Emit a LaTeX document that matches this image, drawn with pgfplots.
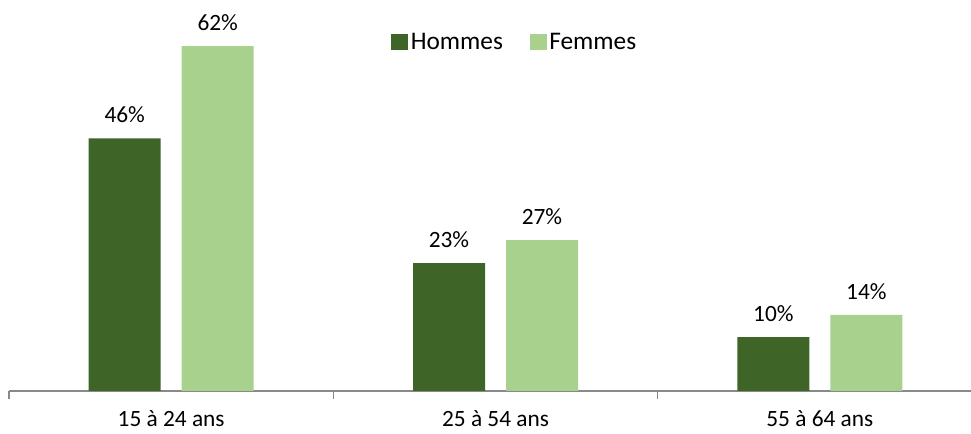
\documentclass[border=0pt]{standalone}
\usepackage{pgfplots}
\pgfplotsset{compat=1.18}
\usepackage{fontspec}
\setmainfont{Carlito}
\definecolor{dkg}{HTML}{3F6428}
\definecolor{ltg}{HTML}{A9D18E}
\definecolor{axg}{HTML}{898989}
\begin{document}
\begin{tikzpicture}
\begin{axis}[
  at={(0,0)}, anchor=south west,
  scale only axis,
  width=729.75pt, height=292.1pt,
  ymin=0, ymax=70,
  xmin=-0.5, xmax=2.5,
  ybar=15.75pt, bar width=54pt,
  axis y line=none,
  axis x line*=bottom,
  axis line style={axg, line width=0.9pt},
  xtick={0,1,2},
  xticklabels={15 à 24 ans, 25 à 54 ans, 55 à 64 ans},
  major x tick style={draw=none},
  minor xtick={-0.5,0.5,1.5,2.5},
  minor x tick style={axg, line width=0.9pt},
  minor tick length=6pt,
  tick align=outside,
  xticklabel style={font=\fontsize{17.5pt}{20pt}\selectfont, yshift=-7pt},
  point meta=explicit symbolic,
  nodes near coords={\pgfplotspointmeta\%},
  nodes near coords style={font=\fontsize{17.5pt}{20pt}\selectfont, black, yshift=8pt},
  legend style={draw=none, at={(0.52,0.896)}, anchor=center, legend columns=2,
     font=\fontsize{19pt}{22pt}\selectfont,
     /tikz/every even column/.append style={column sep=18pt}},
  legend image code/.code={\fill[#1] (0pt,-6pt) rectangle (12.75pt,6pt);},
]
\addplot[fill=dkg, draw=none] coordinates {(0,45.4) [46] (1,23.0) [23] (2,9.7) [10]};
\addplot[fill=ltg, draw=none] coordinates {(0,62.0) [62] (1,27.1) [27] (2,13.7) [14]};
\legend{Hommes, Femmes}
\end{axis}
\pgfresetboundingbox
\path[use as bounding box] (-6.75pt,-32.25pt) rectangle (721.5pt,293.25pt);
\end{tikzpicture}
\end{document}
